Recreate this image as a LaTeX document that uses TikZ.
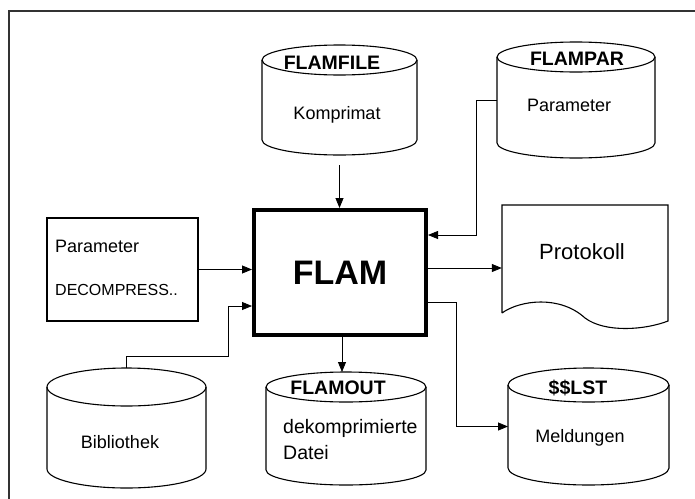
\documentclass[tikz,border=0pt]{standalone}
\usepackage{fontspec}
\setmainfont{Liberation Sans}
\usetikzlibrary{arrows.meta,calc}
% cylinder outline round a named node: name, x radius, y radius
\newcommand{\dbcyl}[3]{%
  \draw[line width=1.1pt] ([yshift=-#3pt]#1.north) ellipse[x radius=#2pt, y radius=#3pt];
  \draw[line width=1.1pt] ([yshift=-#3pt]#1.north west) -- ([yshift=#3pt]#1.south west)
    arc[start angle=180, end angle=360, x radius=#2pt, y radius=#3pt] -- ([yshift=-#3pt]#1.north east);
}
\tikzset{
  db/.style={rectangle, inner sep=0pt, outer sep=0pt},
  conn/.style={line width=0.8pt, -{Triangle[length=10pt,width=8pt]}},
  dbtitle/.style={font=\bfseries\fontsize{19.5}{20}\selectfont, inner sep=0pt},
  dbtext/.style={font=\fontsize{18}{22}\selectfont, inner sep=0pt},
}
\begin{document}
\begin{tikzpicture}[x=1pt,y=-1pt]
\clip (0,0) rectangle (695,498);
\fill[white] (0,0) rectangle (695,498);
\draw[line width=1.6pt,black!80] (9,520) -- (9,11) -- (720,11);
% central program
\node[draw, line width=4pt, minimum width=172pt, minimum height=125pt, font=\bfseries\fontsize{34}{36}\selectfont] (flam) at (340,272.5) {FLAM};
% input / output files
\node[db, minimum width=155pt, minimum height=110pt] (flamfile) at (339.5,100) {};
\node[db, minimum width=158pt, minimum height=116pt] (flampar) at (576,100) {};
\node[db, minimum width=159pt, minimum height=120pt] (biblio) at (126.5,428) {};
\node[db, minimum width=160pt, minimum height=113pt] (flamout) at (346,428.5) {};
\node[db, minimum width=161pt, minimum height=117pt] (lst) at (588.5,426.5) {};
\dbcyl{flamfile}{77.5}{15}
\dbcyl{flampar}{79}{15}
\dbcyl{biblio}{79.5}{19}
\dbcyl{flamout}{80}{15}
\dbcyl{lst}{80.5}{17}
\node[draw, line width=1.2pt, minimum width=151pt, minimum height=103pt] (param) at (122.5,269.5) {};
\node[minimum width=166pt, minimum height=118pt] (prot) at (585,264) {};
\draw[line width=1.1pt] (502,313) -- (502,205) -- (668,205) -- (668,321)
  .. controls (645,330) and (605,333) .. (585,318)
  .. controls (560,295) and (520,300) .. (502,313);
% texts
\node[dbtitle] (flamfileT) at (332,63) {FLAMFILE};
\node[dbtext] (flamfileB) at (337,115) {Komprimat};
\node[dbtitle] (flamparT) at (577,59) {FLAMPAR};
\node[dbtext, anchor=west] (flamparB) at (527,105) {Parameter};
\node[dbtext, anchor=west] (paramA) at (55,246) {Parameter};
\node[font=\fontsize{16}{18}\selectfont, inner sep=0pt, anchor=west] (paramB) at (55,290) {DECOMPRESS..};
\node[font=\fontsize{22}{24}\selectfont, inner sep=0pt] (protT) at (582,252) {Protokoll};
\node[dbtext] (biblioB) at (120,442) {Bibliothek};
\node[dbtitle] (flamoutT) at (338,388) {FLAMOUT};
\node[dbtext, font=\fontsize{19.5}{22}\selectfont, anchor=west] (flamoutB1) at (283,428) {dekomprimierte};
\node[dbtext, font=\fontsize{19.5}{22}\selectfont, anchor=west] (flamoutB2) at (283,453) {Datei};
\node[dbtitle] (lstT) at (578,388) {\$\$LST};
\node[dbtext] (lstB) at (580,438) {Meldungen};
% connectors
\draw[conn, shorten <=10pt] (flamfile.south) -- (flamfile.south |- flam.north);
\draw[conn] (flampar.west) -- ++(-21,0) |- ([yshift=37.5pt]flam.east);
\draw[conn] (param.east) -- (param.east -| flam.west);
\draw[conn] (biblio.north) |- ++(101.5,-12) |- ([yshift=-33.5pt]flam.west);
\draw[conn] ([yshift=4.5pt]flam.east) -- ([yshift=4.5pt]flam.east -| prot.west);
\draw[conn] ([xshift=2pt]flam.south) -- ([xshift=2pt]flam.south |- flamout.north);
\draw[conn] ([yshift=-29.5pt]flam.east) -- ++(28,0) |- (lst.west);
\end{tikzpicture}
\end{document}
